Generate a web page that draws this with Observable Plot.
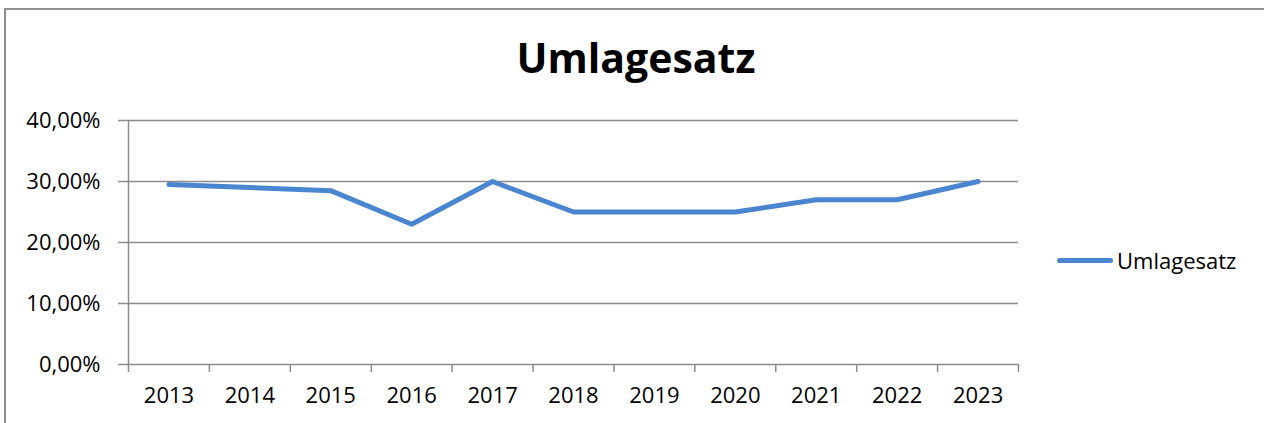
<!DOCTYPE html>
<html>
<head>
<meta charset="utf-8">
<script src="https://cdn.jsdelivr.net/npm/d3@7"></script>
<script src="https://cdn.jsdelivr.net/npm/@observablehq/plot@0.6"></script>
<style>
  html, body { margin: 0; padding: 0; background: #fff; }
  #wrap { position: relative; width: 1264px; height: 423px; overflow: hidden; font-family: "Open Sans", sans-serif; }
  #chart { position: absolute; left: 0; top: 0; }
  #border { position: absolute; left: 4px; top: 8px; width: 1400px; height: 600px;
            border-top: 2px solid #8f8f8f; border-left: 2px solid #8f8f8f; pointer-events: none; }
  #title { position: absolute; left: 0; width: 1272px; top: 37px; text-align: center;
           font-weight: 700; font-size: 41px; line-height: 1; color: #000; }
  #legend { position: absolute; left: 1057px; top: 249px; display: flex; align-items: center; }
  #swatch { width: 56px; height: 5px; border-radius: 2.5px; margin-right: 4px; }
  #legtext { font-size: 22px; line-height: 1; color: #000; }
</style>
</head>
<body>
<div id="wrap">
  <div id="chart"></div>
  <div id="title"></div>
  <div id="legend"><div id="swatch"></div><div id="legtext"></div></div>
  <div id="border"></div>
</div>
<script>
const chartTitle = "Umlagesatz";
const seriesName = "Umlagesatz";
const years = ["2013", "2014", "2015", "2016", "2017", "2018", "2019", "2020", "2021", "2022", "2023"];
const rates = [0.295, 0.29, 0.285, 0.23, 0.30, 0.25, 0.25, 0.25, 0.27, 0.27, 0.30];
const yTicks = [0, 0.1, 0.2, 0.3, 0.4];

const lineColor = "#4a86d0";
const gridColor = "#8c8c8c";

const data = years.map((year, i) => ({year, rate: rates[i]}));

const W = 1264, H = 423, ML = 128, MR = 246, MT = 120, MB = 59;
const step = (W - ML - MR) / years.length;
const fmt = d => (d * 100).toFixed(2).replace(".", ",") + "%";

const chart = Plot.plot({
  width: W, height: H,
  marginLeft: ML, marginRight: MR, marginTop: MT, marginBottom: MB,
  style: {fontFamily: "Open Sans", fontSize: "22px", color: "#000", background: "transparent"},
  x: {type: "point", domain: years, padding: 0.5, round: false, label: null, axis: null},
  y: {domain: [0, 0.4], label: null, axis: null},
  marks: [
    Plot.ruleY(yTicks, {stroke: gridColor, strokeWidth: 1.5, insetLeft: -10}),
    Plot.ruleX([years[0]], {x: d => d, dx: -step / 2, y1: 0, y2: 0.4, stroke: gridColor, strokeWidth: 1.5}),
    Plot.ruleX(years, {x: d => d, dx: -step / 2, y1: 0, y2: 0, insetBottom: -8, stroke: gridColor, strokeWidth: 1.5}),
    Plot.ruleX([years[years.length - 1]], {x: d => d, dx: step / 2, y1: 0, y2: 0, insetBottom: -8, stroke: gridColor, strokeWidth: 1.5}),
    Plot.axisX({tickSize: 0, tickPadding: 23, fontSize: 22, label: null}),
    Plot.axisY({ticks: yTicks, tickSize: 0, tickPadding: 28, tickFormat: fmt, fontSize: 22, label: null}),
    Plot.line(data, {x: "year", y: "rate", stroke: lineColor, strokeWidth: 5, strokeLinejoin: "round", strokeLinecap: "round"})
  ]
});
document.getElementById("chart").appendChild(chart);
document.getElementById("title").textContent = chartTitle;
document.getElementById("legtext").textContent = seriesName;
document.getElementById("swatch").style.background = lineColor;
</script>
</body>
</html>
